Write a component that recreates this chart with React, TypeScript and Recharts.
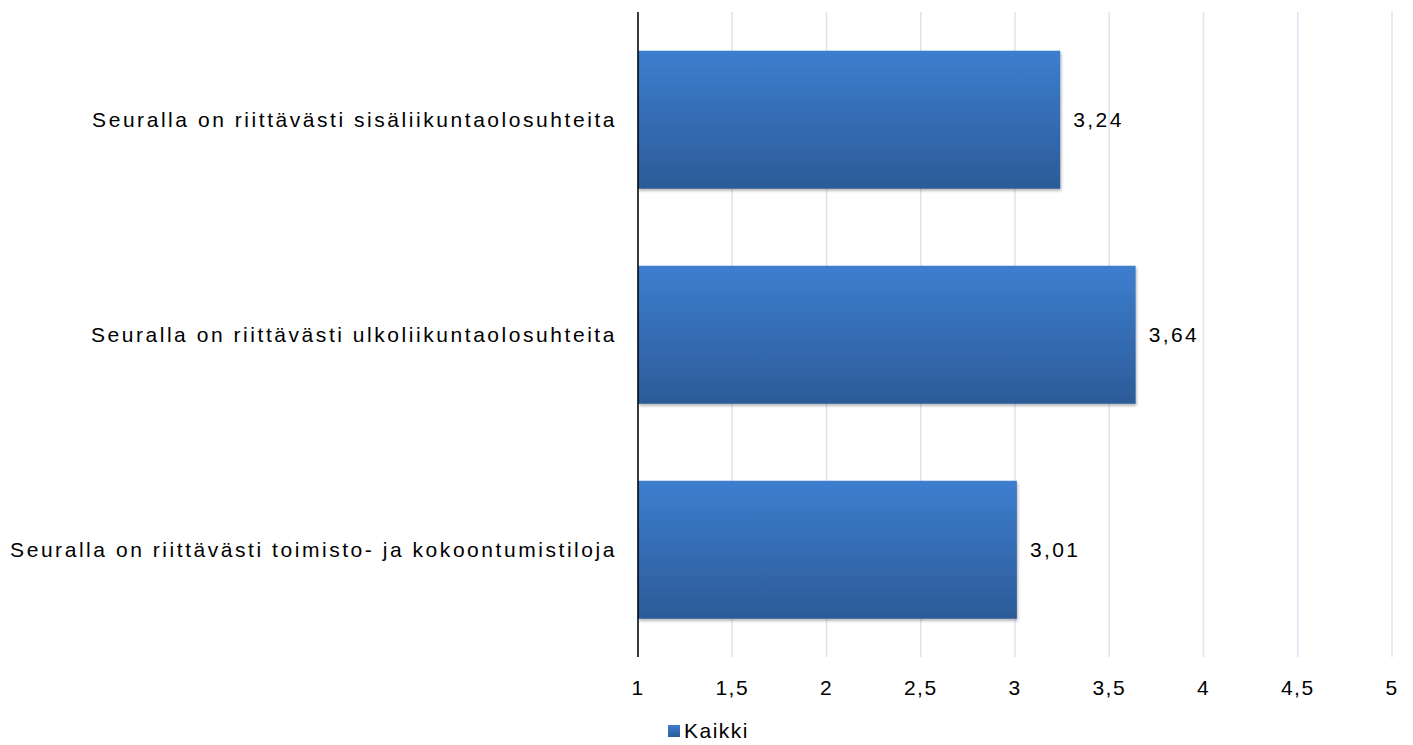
import { BarChart, Bar, XAxis, YAxis, CartesianGrid, LabelList, Legend } from "recharts";

// Kysymykset (kategoriat)
const categories = [
  "Seuralla on riittävästi sisäliikuntaolosuhteita",
  "Seuralla on riittävästi ulkoliikuntaolosuhteita",
  "Seuralla on riittävästi toimisto- ja kokoontumistiloja",
];

// Sarja: Kaikki
const kaikki = [3.24, 3.64, 3.01];

const xTicks = [1, 1.5, 2, 2.5, 3, 3.5, 4, 4.5, 5];

const data = categories.map((name, i) => ({ name, kaikki: kaikki[i] }));

const fmt = (v: number) => String(v).replace(".", ",");

const font = "'Liberation Sans', Arial, sans-serif";

export default function App() {
  return (
    <div style={{ margin: "-8px 0 0 -8px", fontFamily: font }}>
      <BarChart
        width={1413}
        height={745}
        data={data}
        layout="vertical"
        margin={{ top: 12, right: 21, left: 0, bottom: 0 }}
        barCategoryGap="18%"
      >
        <defs>
          <linearGradient id="barFill" x1="0" y1="0" x2="0" y2="1">
            <stop offset="0%" stopColor="#3d7ecf" />
            <stop offset="100%" stopColor="#2c5b98" />
          </linearGradient>
          <filter id="barShadow" x="-5%" y="-5%" width="110%" height="120%">
            <feDropShadow dx="1" dy="2" stdDeviation="1.5" floodColor="#000" floodOpacity="0.3" />
          </filter>
        </defs>
        <CartesianGrid horizontal={false} stroke="#dbe4f0" strokeWidth={1.5} />
        <XAxis
          type="number"
          domain={[1, 5]}
          ticks={xTicks}
          tickFormatter={fmt}
          axisLine={false}
          tickLine={false}
          tickMargin={17}
          height={50}
          tick={{ fill: "#000", fontSize: 21, fontFamily: font, letterSpacing: 1.5 }}
        />
        <YAxis
          type="category"
          dataKey="name"
          width={638}
          axisLine={{ stroke: "#000", strokeWidth: 1.5 }}
          tickLine={false}
          tickMargin={15}
          tick={{ fill: "#000", fontSize: 21, fontFamily: font, letterSpacing: 2.55 }}
        />
        <Legend
          verticalAlign="bottom"
          height={38}
          content={() => (
            <div style={{ display: "flex", alignItems: "center", paddingLeft: 668, paddingTop: 12, fontSize: 21, letterSpacing: 1.5, color: "#000" }}>
              <span style={{ width: 12, height: 12, background: "linear-gradient(#3d7ecf, #2c5b98)", marginRight: 4, display: "inline-block" }} />
              Kaikki
            </div>
          )}
        />
        <Bar dataKey="kaikki" fill="url(#barFill)" filter="url(#barShadow)" isAnimationActive={false}>
          <LabelList
            dataKey="kaikki"
            position="right"
            offset={13}
            formatter={(v: any) => fmt(v)}
            style={{ fill: "#000", fontSize: 21, fontFamily: font, letterSpacing: 2.4 }}
          />
        </Bar>
      </BarChart>
    </div>
  );
}
